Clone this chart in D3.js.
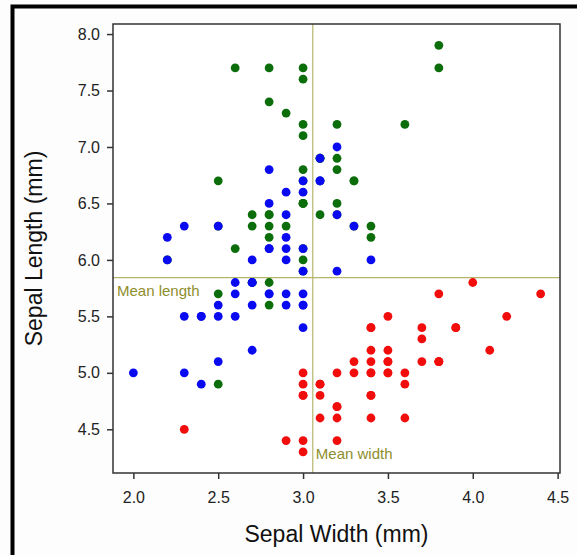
<!DOCTYPE html>
<html><head><meta charset="utf-8">
<script src="https://cdn.jsdelivr.net/npm/d3@7"></script>
<style>
html,body{margin:0;padding:0;background:#fdfdfd;}
svg{display:block;font-family:"Liberation Sans",Arial,sans-serif;}
</style></head>
<body>
<svg id="chart" width="577" height="555"></svg>
<script>
// Iris data: [sepal length, sepal width]
const setosa = [[5.1,3.5],[4.9,3.0],[4.7,3.2],[4.6,3.1],[5.0,3.6],[5.4,3.9],[4.6,3.4],[5.0,3.4],[4.4,2.9],[4.9,3.1],[5.4,3.7],[4.8,3.4],[4.8,3.0],[4.3,3.0],[5.8,4.0],[5.7,4.4],[5.4,3.9],[5.1,3.5],[5.7,3.8],[5.1,3.8],[5.4,3.4],[5.1,3.7],[4.6,3.6],[5.1,3.3],[4.8,3.4],[5.0,3.0],[5.0,3.4],[5.2,3.5],[5.2,3.4],[4.7,3.2],[4.8,3.1],[5.4,3.4],[5.2,4.1],[5.5,4.2],[4.9,3.1],[5.0,3.2],[5.5,3.5],[4.9,3.6],[4.4,3.0],[5.1,3.4],[5.0,3.5],[4.5,2.3],[4.4,3.2],[5.0,3.5],[5.1,3.8],[4.8,3.0],[5.1,3.8],[4.6,3.2],[5.3,3.7],[5.0,3.3]];
const versicolor = [[7.0,3.2],[6.4,3.2],[6.9,3.1],[5.5,2.3],[6.5,2.8],[5.7,2.8],[6.3,3.3],[4.9,2.4],[6.6,2.9],[5.2,2.7],[5.0,2.0],[5.9,3.0],[6.0,2.2],[6.1,2.9],[5.6,2.9],[6.7,3.1],[5.6,3.0],[5.8,2.7],[6.2,2.2],[5.6,2.5],[5.9,3.2],[6.1,2.8],[6.3,2.5],[6.1,2.8],[6.4,2.9],[6.6,3.0],[6.8,2.8],[6.7,3.0],[6.0,2.9],[5.7,2.6],[5.5,2.4],[5.5,2.4],[5.8,2.7],[6.0,2.7],[5.4,3.0],[6.0,3.4],[6.7,3.1],[6.3,2.3],[5.6,3.0],[5.5,2.5],[5.5,2.6],[6.1,3.0],[5.8,2.6],[5.0,2.3],[5.6,2.7],[5.7,3.0],[5.7,2.9],[6.2,2.9],[5.1,2.5],[5.7,2.8]];
const virginica = [[6.3,3.3],[5.8,2.7],[7.1,3.0],[6.3,2.9],[6.5,3.0],[7.6,3.0],[4.9,2.5],[7.3,2.9],[6.7,2.5],[7.2,3.6],[6.5,3.2],[6.4,2.7],[6.8,3.0],[5.7,2.5],[5.8,2.8],[6.4,3.2],[6.5,3.0],[7.7,3.8],[7.7,2.6],[6.0,2.2],[6.9,3.2],[5.6,2.8],[7.7,2.8],[6.3,2.7],[6.7,3.3],[7.2,3.2],[6.2,2.8],[6.1,3.0],[6.4,2.8],[7.2,3.0],[7.4,2.8],[7.9,3.8],[6.4,2.8],[6.3,2.8],[6.1,2.6],[7.7,3.0],[6.3,3.4],[6.4,3.1],[6.0,3.0],[6.9,3.1],[6.7,3.1],[6.9,3.1],[5.8,2.7],[6.8,3.2],[6.7,3.3],[6.7,3.0],[6.3,2.5],[6.5,3.0],[6.2,3.4],[5.9,3.0]];
const xTicks = [2.0,2.5,3.0,3.5,4.0,4.5];
const yTicks = [4.5,5.0,5.5,6.0,6.5,7.0,7.5,8.0];
const seriesColors = {setosa:"#f20d0d", virginica:"#0b6e0b", versicolor:"#0a0af0"};

const svg = d3.select("#chart");
// outer thick frame
svg.append("rect").attr("x",12.5).attr("y",6.5).attr("width",600).attr("height",600)
  .attr("fill","none").attr("stroke","#000").attr("stroke-width",4);

const L=113, R=560, T=24, B=473;
const x = d3.scaleLinear().domain([1.88,4.514]).range([L,R]);
const y = d3.scaleLinear().domain([4.113,8.089]).range([B,T]);

svg.append("rect").attr("x",L).attr("y",T).attr("width",R-L).attr("height",B-T)
  .attr("fill","#fff").attr("stroke","none");

const all = setosa.concat(versicolor, virginica);
const meanW = d3.mean(all, d=>d[1]);
const meanL = d3.mean(all, d=>d[0]);

const lineCol = "#b5b56a", textCol = "#8e8e2c";
svg.append("line").attr("x1",x(meanW)).attr("x2",x(meanW)).attr("y1",T).attr("y2",B)
  .attr("stroke",lineCol).attr("stroke-width",1.2);
svg.append("line").attr("x1",L).attr("x2",R).attr("y1",y(meanL)).attr("y2",y(meanL))
  .attr("stroke",lineCol).attr("stroke-width",1.2);
svg.append("text").attr("x",L+4).attr("y",y(meanL)+18).attr("fill",textCol)
  .attr("font-size",15).text("Mean length");
svg.append("text").attr("x",x(meanW)+3).attr("y",B-14).attr("fill",textCol)
  .attr("font-size",15).text("Mean width");

function dots(data, col){
  svg.append("g").selectAll("circle").data(data).join("circle")
    .attr("cx",d=>x(d[1])).attr("cy",d=>y(d[0])).attr("r",4.4).attr("fill",col);
}
dots(setosa, seriesColors.setosa);
dots(virginica, seriesColors.virginica);
dots(versicolor, seriesColors.versicolor);

// plot frame
svg.append("rect").attr("x",L).attr("y",T).attr("width",R-L).attr("height",B-T)
  .attr("fill","none").attr("stroke","#333").attr("stroke-width",1.5);

const xAxis = svg.append("g").attr("transform",`translate(0,${B})`)
  .call(d3.axisBottom(x).tickValues(xTicks).tickFormat(d3.format(".1f")).tickSize(6).tickSizeOuter(0));
const yAxis = svg.append("g").attr("transform",`translate(${L},0)`)
  .call(d3.axisLeft(y).tickValues(yTicks).tickFormat(d3.format(".1f")).tickSize(6).tickSizeOuter(0));
[xAxis,yAxis].forEach(a=>{
  a.select(".domain").remove();
  a.selectAll(".tick line").attr("stroke","#333").attr("stroke-width",1.5);
  a.selectAll(".tick text").attr("fill","#222").attr("font-size",16)
    .attr("font-family","'Liberation Sans',Arial,sans-serif");
});
xAxis.selectAll(".tick text").attr("dy",null).attr("y",30);
yAxis.selectAll(".tick text").attr("x",-13);

svg.append("text").attr("x",(L+R)/2).attr("y",542).attr("text-anchor","middle")
  .attr("font-size",23).attr("fill","#111").text("Sepal Width (mm)");
svg.append("text").attr("transform",`translate(42,${(T+B)/2}) rotate(-90)`)
  .attr("text-anchor","middle").attr("font-size",23).attr("fill","#111").text("Sepal Length (mm)");
</script>
</body></html>
